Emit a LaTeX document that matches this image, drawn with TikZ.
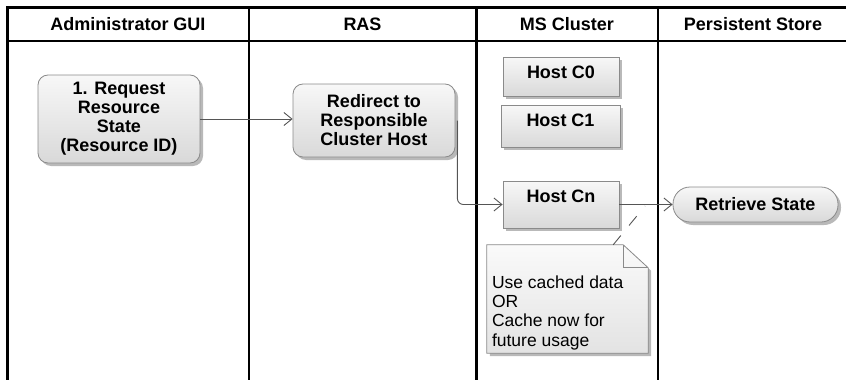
\documentclass[tikz,border=0pt]{standalone}
\usepackage{fontspec}
\setmainfont{Liberation Sans}
\usetikzlibrary{arrows.meta,shadows,backgrounds}

\definecolor{edgegray}{HTML}{8A8A8A}
\definecolor{wiregray}{HTML}{555555}

\tikzset{
  lane/.style={line width=2.6pt, black},
  lanehead/.style={font=\fontsize{18}{19}\selectfont\bfseries, inner sep=0pt},
  boxshade/.style={draw=edgegray, line width=0.8pt, top color=gray!6, bottom color=gray!30,
    drop shadow={shadow xshift=3pt, shadow yshift=-3pt, fill=gray!55, opacity=1}},
  action/.style={boxshade, rounded corners=10pt, align=center,
    font=\fontsize{18}{19}\selectfont\bfseries, inner sep=0pt},
  host/.style={boxshade, font=\fontsize{18}{19}\selectfont\bfseries,
    inner xsep=0pt, inner ysep=3pt, text height=18pt, minimum width=116pt},
  wire/.style={wiregray, line width=0.9pt, -{Straight Barb[length=8pt,width=13pt]}},
  notetext/.style={font=\fontsize{17.5}{19.4}\selectfont, inner sep=0pt,
    minimum width=161pt, minimum height=108pt},
}

\begin{document}
\begin{tikzpicture}[x=1pt, y=-1pt]
\useasboundingbox (0,0) rectangle (846,380);

% swimlane frame
\draw[lane] (846,7.5) -- (7.5,7.5) -- (7.5,380);
\draw[lane] (7.5,41) -- (846,41);
\draw[lane] (249,7.5) -- (249,380);
\draw[lane] (476.5,7.5) -- (476.5,380);
\draw[lane] (658,7.5) -- (658,380);

% lane titles
\node[lanehead] (hgui)   at (128,24)   {Administrator GUI};
\node[lanehead] (hras)   at (362.5,24) {RAS};
\node[lanehead] (hms)    at (567,24)   {MS Cluster};
\node[lanehead] (hstore) at (753,24)   {Persistent Store};

% actions
\node[action, minimum width=162pt, minimum height=88pt] (req) at (119,119)
  {1. Request\\Resource\\State\\(Resource ID)};
\node[action, minimum width=162pt, minimum height=73pt] (redir) at (374,120.5)
  {Redirect to\\Responsible\\Cluster Host};

% cluster hosts
\node[host, text depth=15pt] (h0) at (561,76.5) {Host C0};
\node[host, text depth=18pt, minimum width=119pt] (h1) at (560.5,126) {Host C1};
\node[host, text depth=23pt] (hn) at (561,204.5) {Host Cn};

% store access
\node[action, rounded corners=17pt, minimum width=165pt, minimum height=35pt] (retr)
  at (755.5,204.5) {Retrieve State};

% comment note with folded corner
\node[notetext] (note) at (567.5,299)
  {\parbox[c][108pt][b]{151pt}{Use cached data\\OR\\Cache now for\\future usage\par\vspace{3pt}}};
\begin{scope}[on background layer]
  \path[boxshade, top color=gray!4, bottom color=gray!22]
    (note.north west) -- ([xshift=-25pt]note.north east)
    -- ([yshift=-23pt]note.north east) -- (note.south east)
    -- (note.south west) -- cycle;
  \draw[edgegray, line width=0.8pt]
    ([xshift=-25pt]note.north east) |- ([yshift=-23pt]note.north east);
\end{scope}
\coordinate (tether) at (645,206);

% flow
\draw[wire] (req.east) -- (req.east -| redir.west);
\draw[wire, rounded corners=6pt] ([xshift=2pt]redir.east) |- (hn.west);
\draw[wire] (hn.east) -- (retr.west);
\draw[wiregray, line width=0.9pt, dash pattern=on 12pt off 13pt]
  ([xshift=-35pt]note.north east) -- (tether);
\end{tikzpicture}
\end{document}
